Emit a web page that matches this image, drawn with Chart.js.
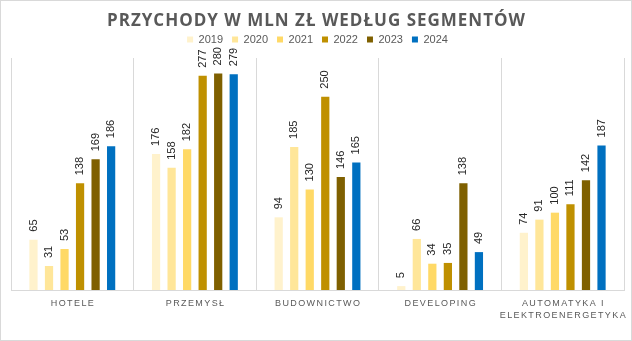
<!DOCTYPE html>
<html>
<head>
<meta charset="utf-8">
<script src="https://cdn.jsdelivr.net/npm/chart.js@4"></script>
<style>
  html, body { margin: 0; padding: 0; background: #fff; }
  #wrap { position: relative; width: 632px; height: 341px; }
  #chart { position: absolute; left: 0; top: 0; }
  #frame { position: absolute; left: 0; top: 0; width: 632px; height: 341px; box-sizing: border-box; border: 1px solid #d9d9d9; pointer-events: none; }
</style>
</head>
<body>
<div id="wrap">
  <canvas id="chart" width="632" height="341"></canvas>
  <div id="frame"></div>
</div>
<script>
const chartTitle = 'PRZYCHODY W MLN ZŁ WEDŁUG SEGMENTÓW';
const categories = [['HOTELE'], ['PRZEMYSŁ'], ['BUDOWNICTWO'], ['DEVELOPING'], ['AUTOMATYKA I', 'ELEKTROENERGETYKA']];
const years = ['2019', '2020', '2021', '2022', '2023', '2024'];
const yearColors = ['#FFF2CC', '#FFE699', '#FFD966', '#BF9000', '#7F6000', '#0070C0'];

const values2019 = [65, 176, 94, 5, 74];
const values2020 = [31, 158, 185, 66, 91];
const values2021 = [53, 182, 130, 34, 100];
const values2022 = [138, 277, 250, 35, 111];
const values2023 = [169, 280, 146, 138, 142];
const values2024 = [186, 279, 165, 49, 187];
const seriesValues = [values2019, values2020, values2021, values2022, values2023, values2024];

const textGray = '#595959';

// a little extra room under the legend
const legendGap = {
  id: 'legendGap',
  beforeLayout(chart) {
    const lg = chart.legend;
    if (lg && !lg._gapPatched) {
      const fit = lg.fit;
      lg.fit = function () { fit.call(this); this.height += 3; };
      lg._gapPatched = true;
    }
  }
};

// title, rotated value labels and spaced category names
const extraText = {
  id: 'extraText',
  afterDraw(chart) {
    const ctx = chart.ctx;
    const xScale = chart.scales.x;

    ctx.save();
    ctx.fillStyle = textGray;
    ctx.font = 'bold 17px "Open Sans"';
    ctx.letterSpacing = '1px';
    ctx.textAlign = 'center';
    ctx.textBaseline = 'middle';
    ctx.fillText(chartTitle, chart.width / 2 + 0.5, 21);

    ctx.font = '9px "Liberation Sans"';
    ctx.letterSpacing = '1.4px';
    categories.forEach((lines, i) => {
      const x = xScale.getPixelForValue(i) + 0.7;
      lines.forEach((line, j) => {
        ctx.fillText(line, x, 304 + j * 12);
      });
    });
    ctx.restore();

    ctx.save();
    ctx.font = '11px "Liberation Sans"';
    ctx.fillStyle = '#262626';
    ctx.textAlign = 'left';
    ctx.textBaseline = 'middle';
    chart.data.datasets.forEach((ds, di) => {
      const meta = chart.getDatasetMeta(di);
      meta.data.forEach((bar, i) => {
        ctx.save();
        ctx.translate(bar.x, bar.y - 8);
        ctx.rotate(-Math.PI / 2);
        ctx.fillText(String(ds.data[i]), 0, 0);
        ctx.restore();
      });
    });
    ctx.restore();
  }
};

new Chart(document.getElementById('chart'), {
  type: 'bar',
  data: {
    labels: categories.map(c => c.join(' ')),
    datasets: years.map((y, i) => ({
      label: y,
      data: seriesValues[i],
      backgroundColor: yearColors[i],
      categoryPercentage: 0.76,
      barPercentage: 0.53
    }))
  },
  options: {
    responsive: false,
    animation: false,
    layout: { padding: { top: 25, left: 11, right: 8, bottom: 51 } },
    plugins: {
      legend: {
        position: 'top',
        labels: {
          boxWidth: 6,
          boxHeight: 6,
          padding: 9,
          color: textGray,
          font: { family: 'Liberation Sans', size: 11 }
        }
      },
      tooltip: { enabled: false }
    },
    scales: {
      x: {
        offset: true,
        ticks: { display: false },
        grid: { display: true, offset: true, color: '#d9d9d9', drawTicks: false },
        border: { display: true, color: '#d9d9d9' }
      },
      y: {
        display: false,
        min: 0,
        max: 300
      }
    }
  },
  plugins: [legendGap, extraText]
});
</script>
</body>
</html>
